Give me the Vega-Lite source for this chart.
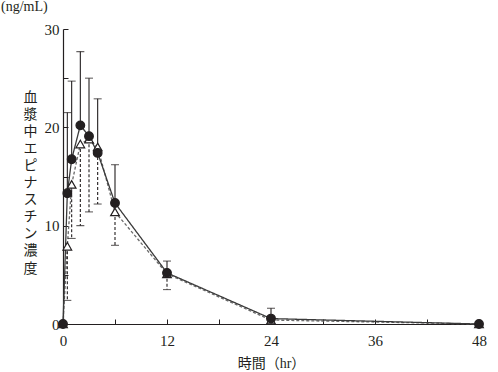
{
  "$schema": "https://vega.github.io/schema/vega-lite/v6.json",
  "autosize": {"type": "none"},
  "padding": {"left": 63, "top": 29, "right": 19, "bottom": 48},
  "width": 416,
  "height": 295,
  "background": "white",
  "title": {"text": "(ng/mL)", "anchor": "start", "frame": "group", "dx": -62, "offset": 8, "fontSize": 14, "fontWeight": "normal", "color": "#231f20"},
  "config": {
    "font": "Liberation Serif, Noto Sans CJK JP",
    "view": {"stroke": null},
    "axis": {"grid": false, "domainColor": "#231f20", "tickColor": "#231f20", "labelColor": "#231f20", "titleColor": "#231f20", "labelFontSize": 15, "titleFontSize": 14, "titleFontWeight": "normal", "domainWidth": 1.2, "tickWidth": 1}
  },
  "data": {
    "values": [
      {"time": 0, "series": "アレジオン錠20", "conc": 0, "bar": null},
      {"time": 0.5, "series": "アレジオン錠20", "conc": 7.9, "bar": 2.4},
      {"time": 1, "series": "アレジオン錠20", "conc": 14.2, "bar": 8.7},
      {"time": 2, "series": "アレジオン錠20", "conc": 18.3, "bar": 10.0},
      {"time": 3, "series": "アレジオン錠20", "conc": 18.8, "bar": 11.4},
      {"time": 4, "series": "アレジオン錠20", "conc": 18.0, "bar": 12.2},
      {"time": 6, "series": "アレジオン錠20", "conc": 11.4, "bar": 8.0},
      {"time": 12, "series": "アレジオン錠20", "conc": 5.1, "bar": 3.5},
      {"time": 24, "series": "アレジオン錠20", "conc": 0.4, "bar": 0.0},
      {"time": 48, "series": "アレジオン錠20", "conc": 0, "bar": null},
      {"time": 0, "series": "エピナスチン塩酸塩錠20mg「CEO」", "conc": 0, "bar": null},
      {"time": 0.5, "series": "エピナスチン塩酸塩錠20mg「CEO」", "conc": 13.3, "bar": 21.5},
      {"time": 1, "series": "エピナスチン塩酸塩錠20mg「CEO」", "conc": 16.75, "bar": 24.7},
      {"time": 2, "series": "エピナスチン塩酸塩錠20mg「CEO」", "conc": 20.2, "bar": 27.7},
      {"time": 3, "series": "エピナスチン塩酸塩錠20mg「CEO」", "conc": 19.1, "bar": 25.0},
      {"time": 4, "series": "エピナスチン塩酸塩錠20mg「CEO」", "conc": 17.4, "bar": 22.9},
      {"time": 6, "series": "エピナスチン塩酸塩錠20mg「CEO」", "conc": 12.3, "bar": 16.2},
      {"time": 12, "series": "エピナスチン塩酸塩錠20mg「CEO」", "conc": 5.2, "bar": 6.4},
      {"time": 24, "series": "エピナスチン塩酸塩錠20mg「CEO」", "conc": 0.55, "bar": 1.6},
      {"time": 48, "series": "エピナスチン塩酸塩錠20mg「CEO」", "conc": 0, "bar": null}
    ]
  },
  "encoding": {
    "x": {
      "field": "time", "type": "quantitative",
      "scale": {"domain": [0, 48], "nice": false, "zero": false},
      "axis": {
        "values": [0, 6, 12, 18, 24, 30, 36, 42, 48],
        "labelExpr": "datum.value % 12 === 0 ? datum.label : ''",
        "tickSize": -5, "labelPadding": 14, "labelFlush": false,
        "title": "時間（hr）", "titlePadding": 8
      }
    },
    "y": {
      "field": "conc", "type": "quantitative",
      "scale": {"domain": [0, 30], "nice": false},
      "axis": {
        "values": [0, 5, 10, 15, 20, 25, 30],
        "labelExpr": "datum.value % 10 === 0 ? datum.label : ''",
        "tickSize": -5, "labelPadding": 9, "labelFlush": false,
        "title": ["血", "漿", "中", "エ", "ピ", "ナ", "ス", "チ", "ン", "濃", "度"],
        "titleAngle": 0, "titleAlign": "center", "titleBaseline": "middle",
        "titleLineHeight": 17.1, "titleX": -33, "titleY": 68
      }
    }
  },
  "layer": [
    {
      "mark": {"type": "line", "strokeWidth": 1.3},
      "encoding": {
        "detail": {"field": "series"},
        "color": {"field": "series", "type": "nominal", "scale": {"domain": ["エピナスチン塩酸塩錠20mg「CEO」", "アレジオン錠20"], "range": ["#3a3a3a", "#6a6a6a"]}, "legend": null},
        "strokeDash": {"field": "series", "type": "nominal", "scale": {"domain": ["エピナスチン塩酸塩錠20mg「CEO」", "アレジオン錠20"], "range": [[1, 0], [3, 2]]}, "legend": null}
      }
    },
    {
      "transform": [{"filter": "datum.bar != null"}],
      "mark": {"type": "rule", "strokeWidth": 1.1, "color": "#231f20"},
      "encoding": {
        "y2": {"field": "bar"},
        "strokeDash": {"field": "series", "type": "nominal", "scale": {"domain": ["エピナスチン塩酸塩錠20mg「CEO」", "アレジオン錠20"], "range": [[1, 0], [3, 2]]}, "legend": null}
      }
    },
    {
      "transform": [{"filter": "datum.bar != null"}],
      "mark": {"type": "tick", "orient": "horizontal", "size": 8, "thickness": 1.1, "color": "#231f20"},
      "encoding": {
        "y": {"field": "bar", "type": "quantitative"}
      }
    },
    {
      "mark": {"type": "point", "filled": false, "opacity": 1, "size": 75, "stroke": "#231f20", "strokeWidth": 1.2},
      "encoding": {
        "fill": {"condition": {"test": "datum.series === 'アレジオン錠20'", "value": "white"}, "value": "#231f20"},
        "shape": {
          "field": "series", "type": "nominal",
          "scale": {"domain": ["エピナスチン塩酸塩錠20mg「CEO」", "アレジオン錠20"], "range": ["circle", "triangle-up"]},
          "legend": {"orient": "top-right", "title": "mean±S.D., n=19", "titleFontSize": 13, "titleFontWeight": "normal", "labelFontSize": 13}
        }
      }
    }
  ]
}
